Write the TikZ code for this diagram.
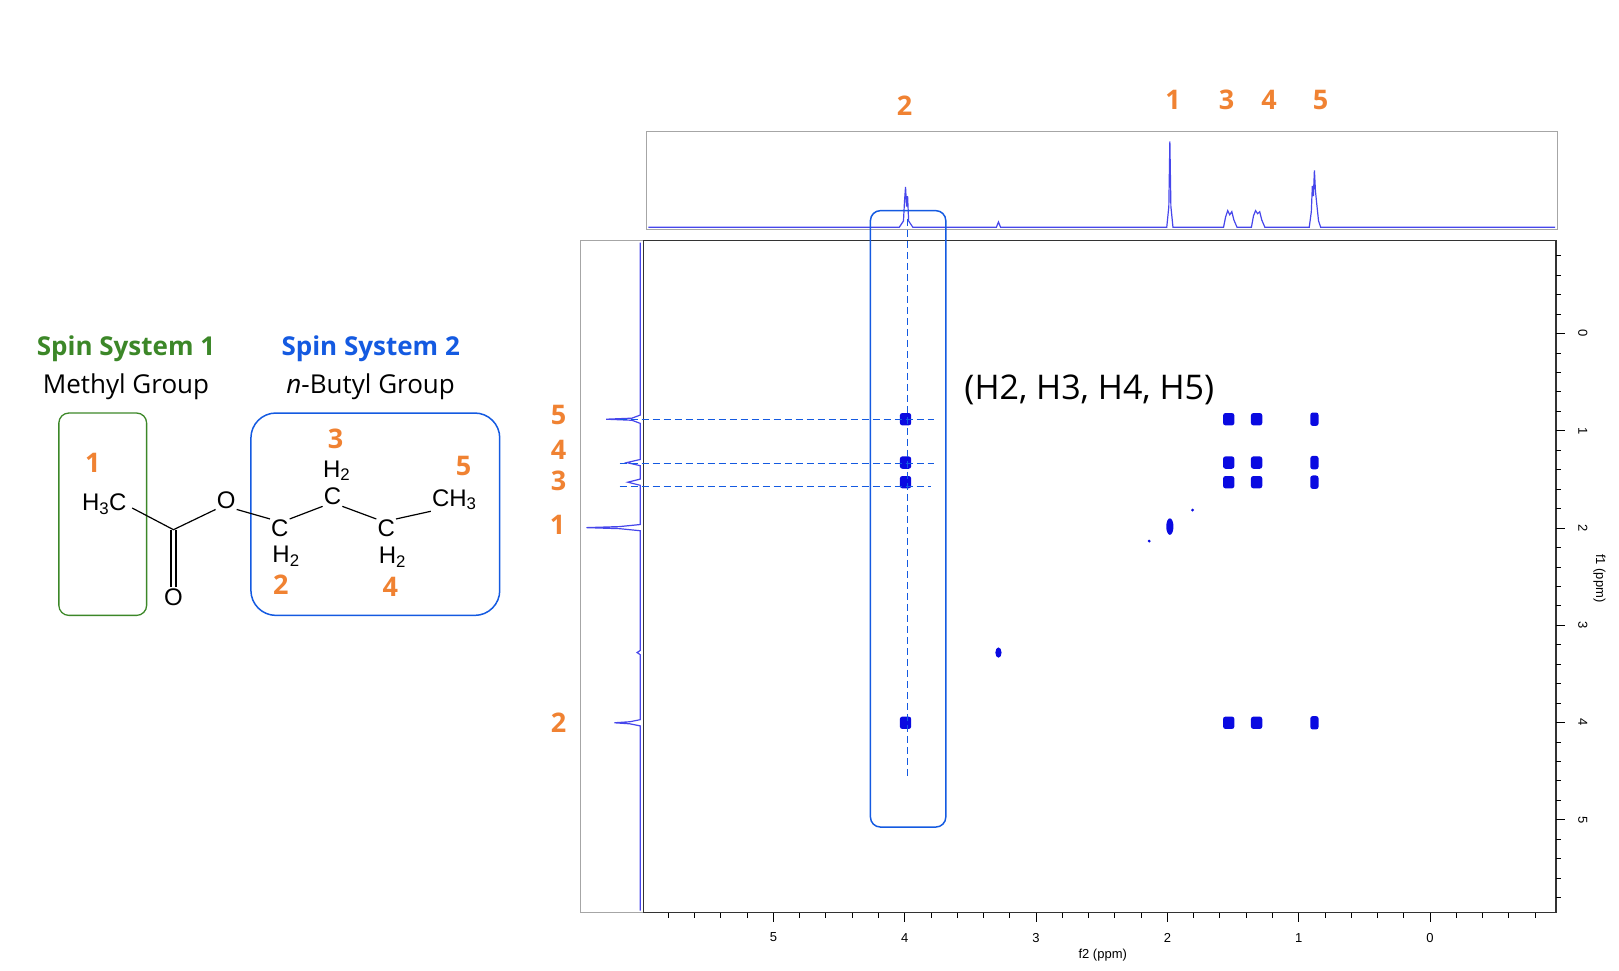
\documentclass[tikz,border=0pt]{standalone}
\usepackage{fontspec}
\setmainfont{Open Sans}
\newfontfamily\arialf{Liberation Sans}
\newcommand{\sbs}[1]{\textsubscript{#1}}
\begin{document}
\begin{tikzpicture}[x=1.0325pt,y=-1.0325pt,
  orn/.style={text=orng,font=\bfseries\fontsize{27}{30}\selectfont},
  mol/.style={font=\arialf\fontsize{24}{26}\selectfont,inner sep=1pt},
  spec/.style={draw=specb,line width=1.2pt},
  xpk/.style={fill=pkb,rounded corners=2.5pt},
  dsh/.style={draw=boxb,dashed,dash pattern=on 7pt off 4pt,line width=1pt},
  ax/.style={font=\arialf\fontsize{13}{14}\selectfont}]
\definecolor{orng}{RGB}{240,130,50}
\definecolor{grn}{RGB}{60,135,40}
\definecolor{boxb}{RGB}{20,90,225}
\definecolor{specb}{RGB}{70,70,235}
\definecolor{pkb}{RGB}{10,10,225}
\useasboundingbox (0,0) rectangle (1568,940.4);
% molecule part
\node[font=\bfseries\fontsize{26}{28}\selectfont,text=grn] (s1) at (122,338) {Spin System 1};
\node[font=\fontsize{26}{28}\selectfont] (m1) at (122,375) {Methyl Group};
\node[font=\bfseries\fontsize{26}{28}\selectfont,text=boxb] (s2) at (359,338) {Spin System 2};
\node[font=\fontsize{26}{28}\selectfont] (m2) at (359,375) {\textit{n}-Butyl Group};
\draw[grn,line width=1.3pt,rounded corners=10pt] (57,400) rectangle (142,596);
\draw[boxb,line width=1.5pt,rounded corners=25pt] (243,400) rectangle (484,596);
\node[mol] (a1) at (101,488) {H\sbs{3}C};
\coordinate (cc) at (168,513);
\node[mol] (o1) at (168,578) {O};
\node[mol] (o2) at (219,484) {O};
\node[mol] (c2) at (271,512) {C};
\node[mol] (h2) at (277,539) {H\sbs{2}};
\node[mol] (c3) at (322,481) {C};
\node[mol] (h3) at (326,456) {H\sbs{2}};
\node[mol] (c4) at (374,512) {C};
\node[mol] (h4) at (380,540) {H\sbs{2}};
\node[mol] (c5) at (440,484) {CH\sbs{3}};
\coordinate (b1) at (128,492);
\draw[line width=1.2pt] (b1) -- (cc) -- (o2.south west);
\draw[line width=1.2pt] ([xshift=-2.5pt]cc) -- ([xshift=-2.5pt]o1.north) ([xshift=2.5pt]cc) -- ([xshift=2.5pt]o1.north);
\draw[line width=1.2pt] (o2.south east) -- (c2.north west) (c2.north east) -- (c3.south west) (c3.south east) -- (c4.north west) (c4.north east) -- (c5.south west);
\node[orn] (n1) at (90,448) {1};
\node[orn] (n3) at (325,425) {3};
\node[orn] (n5) at (449,451) {5};
\node[orn] (n2) at (272,566) {2};
\node[orn] (n4) at (378,568) {4};
% frames
\draw[gray!70,line width=1pt] (626,127) rectangle (1508,222);
\draw[gray!70,line width=1pt] (562,233) rectangle (623,884);
\draw[black!80,line width=1.2pt] (623,233) rectangle (1507,884);
% top spectrum
\draw[spec] (628,220) -- (871,220) -- (875,214) -- (876,195) -- (877,181) -- (878,200) -- (879,190) -- (880,214) -- (884,220)
 -- (965,220) -- (967,215) -- (969,220) -- (1130,220) -- (1132,200) -- (1133,137) -- (1134,200) -- (1136,220)
 -- (1185,220) -- (1187,210) -- (1189,204) -- (1191,208) -- (1193,205) -- (1195,213) -- (1198,220)
 -- (1212,220) -- (1214,209) -- (1216,204) -- (1218,207) -- (1220,205) -- (1222,213) -- (1225,220)
 -- (1268,220) -- (1270,205) -- (1271,180) -- (1272,190) -- (1273,165) -- (1274,185) -- (1275,195) -- (1277,214) -- (1279,220) -- (1506,220);
% left spectrum
\draw[spec] (620,235) -- (620,402) -- (612,405) -- (587,406) -- (612,407) -- (620,410) -- (620,445) -- (607,448) -- (620,451)
 -- (620,464) -- (608,467) -- (620,470) -- (620,508) -- (600,510) -- (568,511) -- (600,512) -- (620,514)
 -- (620,630) -- (617,632) -- (620,634) -- (620,697) -- (610,699) -- (595,700) -- (610,701) -- (620,703) -- (620,882);
% cross peaks
\foreach \y in {406,448,467,700}{
  \foreach \x in {877,1190,1217}{\fill[xpk] (\x-5.5,\y-6) rectangle (\x+5.5,\y+6);}
  \fill[xpk] (1273-4,\y-6.5) rectangle (1273+4,\y+6.5);}
\fill[pkb] (1133,510) ellipse (3.5 and 8);
\fill[pkb] (1155,494) circle (1.5);
\fill[pkb] (1113,524) circle (1.5);
\fill[pkb] (967,632) ellipse (3 and 5);
% highlight box and dashed lines
\draw[boxb,line width=1.5pt,rounded corners=10pt] (843,204) rectangle (916,801);
\coordinate (vt) at (879,212); \coordinate (vb) at (879,752);
\draw[dsh] (vt) -- (vb);
\coordinate (l5a) at (600,406); \coordinate (l5b) at (905,406);
\coordinate (l4a) at (600,449); \coordinate (l4b) at (905,449);
\coordinate (l3a) at (600,471); \coordinate (l3b) at (902,471);
\draw[dsh] (l5a) -- (l5b); \draw[dsh] (l4a) -- (l4b); \draw[dsh] (l3a) -- (l3b);
\node[font=\fontsize{34}{38}\selectfont] (lab) at (1055,378) {(H2, H3, H4, H5)};
% orange labels
\node[orn] (t2) at (876,102) {2};
\node[orn] (t1) at (1136,97) {1};
\node[orn] (t3) at (1188,97) {3};
\node[orn] (t4) at (1229,97) {4};
\node[orn] (t5) at (1279,97) {5};
\node[orn] (r5) at (541,402) {5};
\node[orn] (r4) at (541,436) {4};
\node[orn] (r3) at (541,466) {3};
\node[orn] (r1) at (540,508) {1};
\node[orn] (r2) at (541,700) {2};
% axes ticks
\foreach \i in {-4,...,29}{
  \pgfmathsetmacro{\d}{\i/5}
  \pgfmathsetmacro{\xx}{1385-127.2*\d}
  \pgfmathsetmacro{\yy}{323+94.2*\d}
  \pgfmathtruncatemacro{\m}{mod(\i+100,5)}
  \ifnum\m=0
    \draw[line width=0.9pt] (\xx,884) -- (\xx,893);
    \draw[line width=0.9pt] (1507,\yy) -- (1516,\yy);
  \else
    \draw[line width=0.9pt] (\xx,884) -- (\xx,889);
    \draw[line width=0.9pt] (1507,\yy) -- (1512,\yy);
  \fi}
\foreach \v in {0,...,5}{
  \node[ax] (bx\v) at (1385-127.2*\v,908) {\v};
  \node[ax,rotate=-90] (ry\v) at (1533,323+94.2*\v) {\v};}
\node[ax] (f2) at (1068,925) {f2 (ppm)};
\node[ax,rotate=-90] (f1) at (1549,560) {f1 (ppm)};
\end{tikzpicture}
\end{document}
